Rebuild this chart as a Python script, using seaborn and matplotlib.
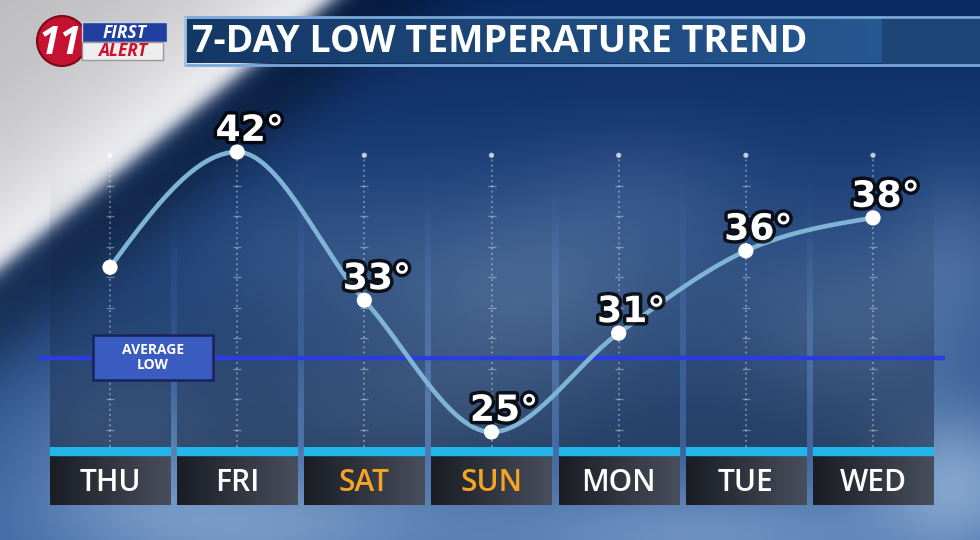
import numpy as np
import pandas as pd
import seaborn as sns
import matplotlib.pyplot as plt
import matplotlib.patheffects as pe
from matplotlib.patches import Rectangle, Circle

# ---- chart data ----
days = ["THU", "FRI", "SAT", "SUN", "MON", "TUE", "WED"]
lows = [35, 42, 33, 25, 31, 36, 38]
show_label = [False, True, True, True, True, True, True]
weekend = ["SAT", "SUN"]
avg_low = 29.5
title = "7-DAY LOW TEMPERATURE TREND"

sns.set_theme(style="white")
plt.rcParams["font.family"] = ["Open Sans", "DejaVu Sans"]

W, H = 980, 540
fig = plt.figure(figsize=(9.8, 5.4), dpi=100)


def monotone_curve(y, n=60):
    # d3-style monotone cubic (Steffen slopes, quadratic end conditions)
    y = np.asarray(y, dtype=float)
    s = np.diff(y)
    m = np.zeros(len(y))
    for k in range(1, len(y) - 1):
        p = (s[k - 1] + s[k]) / 2
        m[k] = (np.sign(s[k - 1]) + np.sign(s[k])) * min(abs(s[k - 1]), abs(s[k]), 0.5 * abs(p))
    m[0] = (3 * s[0] - m[1]) / 2
    m[-1] = (3 * s[-1] - m[-2]) / 2
    xs, ys = [], []
    for k in range(len(y) - 1):
        t = np.linspace(0, 1, n)
        h00 = 2 * t**3 - 3 * t**2 + 1
        h10 = t**3 - 2 * t**2 + t
        h01 = -2 * t**3 + 3 * t**2
        h11 = t**3 - t**2
        xs.append(k + t)
        ys.append(h00 * y[k] + h10 * m[k] + h01 * y[k + 1] + h11 * m[k + 1])
    return np.concatenate(xs), np.concatenate(ys)


# ---- background (sky + white swoosh) ----
ax_bg = fig.add_axes([0, 0, 1, 1])
ax_bg.set_xlim(0, W)
ax_bg.set_ylim(H, 0)
ax_bg.axis("off")

yy, xx = np.mgrid[0:H, 0:W].astype(float)
top = np.array([10, 42, 98]) / 255
bot = np.array([58, 100, 160]) / 255
t = (yy / H)[..., None]
img = top * (1 - t) + bot * t
blobs = [(520, 300, 110, 70, 0.35), (850, 330, 90, 70, 0.3), (955, 480, 60, 50, 0.6),
         (700, 535, 160, 40, 0.45), (250, 525, 130, 40, 0.5), (120, 450, 80, 60, 0.3),
         (400, 420, 120, 50, 0.25), (650, 200, 80, 50, 0.12), (300, 260, 80, 60, 0.12),
         (960, 250, 50, 60, 0.2)]
cloud = np.zeros((H, W))
for cx, cy, sx, sy, a in blobs:
    cloud += a * np.exp(-((xx - cx) ** 2 / (2 * sx**2) + (yy - cy) ** 2 / (2 * sy**2)))
cloud = np.clip(cloud, 0, 0.85)[..., None]
img = img * (1 - cloud) + np.array([170, 198, 230]) / 255 * cloud
d = (yy - (267 - 0.81 * xx)) / 1.287
img = img * (1 - 0.35 * np.exp(-((d - 30) ** 2) / (2 * 35**2)))[..., None]
g = 0.72 + 0.26 * np.exp(-np.clip(-d, 0, None) / 90)
wmask = (1 / (1 + np.exp(d / 5)))[..., None]
img = img * (1 - wmask) + np.dstack([g, g, g * 1.01]) * wmask
ax_bg.imshow(np.clip(img, 0, 1), extent=(0, W, H, 0), aspect="auto", zorder=0)

# title bar
bar = np.linspace(0, 1, 200)[None, :, None]
bar_img = np.array([20, 56, 102]) / 255 * (1 - bar) + np.array([38, 88, 145]) / 255 * bar
ax_bg.imshow(bar_img, extent=(185, 882, 63, 19), aspect="auto", zorder=2)
ax_bg.add_patch(Rectangle((882, 19), 98, 44, color="#1d4676", zorder=2))
ax_bg.plot([185, 980], [17, 17], color="#7aa8d8", lw=2, zorder=3)
ax_bg.plot([185, 980], [65, 65], color="#7aa8d8", lw=2, zorder=3)
ax_bg.plot([185, 185], [17, 65], color="#9fc0e0", lw=2, zorder=3)
ax_bg.text(192, 42, title, color="white", fontsize=27, fontweight="bold",
           ha="left", va="center", zorder=4)

# logo
ax_bg.add_patch(Circle((62, 41), 25, fc="#c41230", ec="#7a0a18", lw=1.5, zorder=3))
ax_bg.add_patch(Rectangle((82, 22), 85, 20, fc="#213f9f", ec="#c8d0e8", lw=1, zorder=4))
ax_bg.add_patch(Rectangle((82, 42), 81, 18, fc="#eeeeee", ec="#999999", lw=1, zorder=4))
ax_bg.text(60, 43, "11", color="white", fontsize=28, fontweight="bold", style="italic",
           ha="center", va="center", zorder=5)
ax_bg.text(125, 32.5, "FIRST", color="white", fontsize=12.5, fontweight="bold", style="italic",
           ha="center", va="center", zorder=5)
ax_bg.text(123, 51.5, "ALERT", color="#d0102a", fontsize=12.5, fontweight="bold", style="italic",
           ha="center", va="center", zorder=5)

# ---- main chart axes ----
x_left, x_right, y_top, y_bot = 38, 945, 140, 447
ax = fig.add_axes([x_left / W, 1 - y_bot / H, (x_right - x_left) / W, (y_bot - y_top) / H])
ax.patch.set_alpha(0)
ax.axis("off")
step = 127.17
xlim = ((x_left - 110) / step, (x_right - 110) / step)
ppd = 16.47
ylim = (25 - (y_bot - 432) / ppd, 42 + (152 - y_top) / ppd)

# dark column panels
fade = np.linspace(0, 1, 100)
panel = np.zeros((100, 2, 4))
panel[..., 0], panel[..., 1], panel[..., 2] = 22 / 255, 36 / 255, 60 / 255
panel[..., 3] = (0.55 * fade**1.3)[:, None]
for i in range(len(days)):
    ax.imshow(panel, extent=(i - 0.472, i + 0.472, ylim[0], ylim[1] - 1.5),
              origin="upper", aspect="auto", zorder=1)

# dotted guides
x_idx = np.arange(len(days))
ax.vlines(x_idx, ylim[0], 41.8, colors="white", alpha=0.45, lw=1.1,
          linestyles=(0, (1.2, 2.2)), zorder=2)
ax.scatter(x_idx, np.full(len(days), 41.8), s=14, color="white", alpha=0.7,
           edgecolor="none", zorder=2)
for yv in np.arange(41.8 - 1.85, ylim[0], -1.85):
    ax.scatter(x_idx, np.full(len(days), yv), marker="_", s=40, color="white",
               alpha=0.35, linewidths=1, zorder=2)

# average low line
ax.axhline(avg_low, color="#2a3de0", lw=3.2, zorder=3)

# curve + points
cx, cy = monotone_curve(lows)
sns.lineplot(x=cx, y=cy, ax=ax, color="#7fb4d6", linewidth=3.3, sort=False, zorder=4)
sns.scatterplot(x=x_idx, y=lows, ax=ax, s=120, color="white", edgecolor="none", zorder=5)
for i, v in enumerate(lows):
    if show_label[i]:
        ax.annotate(f"{v}°", (i, v), xytext=(9, 8), textcoords="offset points",
                    ha="center", va="baseline", fontsize=26, fontweight="bold",
                    family="DejaVu Sans", color="white", zorder=6,
                    path_effects=[pe.withStroke(linewidth=5, foreground="black", alpha=0.8)])
ax.set_xlim(*xlim)
ax.set_ylim(*ylim)

# ---- day boxes ----
ax_days = fig.add_axes([x_left / W, 1 - 505 / H, (x_right - x_left) / W, 58 / H])
ax_days.patch.set_alpha(0)
ax_days.axis("off")
box_grad = np.linspace(0, 1, 100)[None, :, None]
box_img = np.array([26, 29, 36]) / 255 * (1 - box_grad) + np.array([72, 78, 92]) / 255 * box_grad
for i, day in enumerate(days):
    ax_days.add_patch(Rectangle((i - 0.472, 0), 0.944, 8, color="#22b5ea", zorder=2))
    ax_days.imshow(box_img, extent=(i - 0.472, i + 0.472, 58, 9), aspect="auto", zorder=1)
    ax_days.text(i, 36, day, ha="center", va="center", fontsize=21.5, fontweight="semibold",
                 color="#f5a524" if day in weekend else "white", zorder=3)
ax_days.set_xlim(*xlim)
ax_days.set_ylim(58, 0)

# ---- average low label (overlay, pixel coords) ----
ax_fg = fig.add_axes([0, 0, 1, 1])
ax_fg.patch.set_alpha(0)
ax_fg.axis("off")
ax_fg.set_xlim(0, W)
ax_fg.set_ylim(H, 0)
y_avg = H - ax.transData.transform((0, avg_low))[1]
ax_fg.add_patch(Rectangle((93, y_avg - 23), 120, 45, fc="#3a5bbf", ec="#18245a", lw=1.8, zorder=2))
ax_fg.text(153, y_avg - 0.5, "AVERAGE\nLOW", ha="center", va="center", fontsize=10,
           fontweight="bold", color="white", linespacing=1.05, zorder=3)

fig.savefig("out.png", dpi=100)
